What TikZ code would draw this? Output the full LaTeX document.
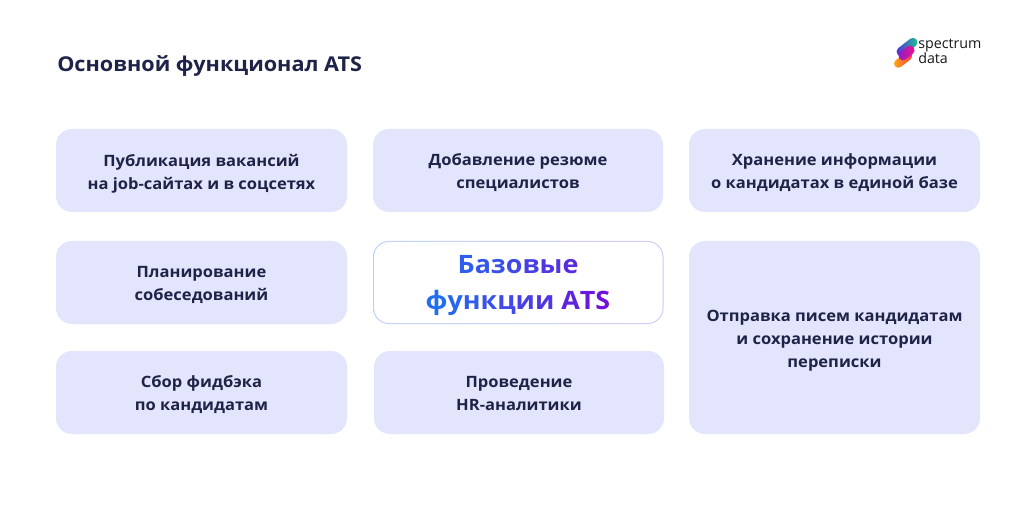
\documentclass[tikz,border=0pt]{standalone}
\usepackage{fontspec}
\setmainfont{Open Sans}[BoldFont={Open Sans Bold}]
\newfontfamily\bodyfont{Open Sans Bold}[FakeStretch=1.06]
\newfontfamily\logofont{Open Sans}
\usetikzlibrary{calc}
\definecolor{ink}{HTML}{1F2347}
\definecolor{boxfill}{HTML}{E3E5FD}
\definecolor{gradA}{HTML}{1F72F2}
\definecolor{gradB}{HTML}{7010D8}
\definecolor{rimA}{HTML}{B9CFFB}
\definecolor{rimB}{HTML}{CFC8FA}
\newcommand{\gl}[2]{{\color{gradB!#1!gradA}#2}}
\newcommand{\topstrut}{\rule{0pt}{14.6pt}}
\newcommand{\botstrut}{\rule[-3pt]{0pt}{3pt}}
\tikzset{
  x=0.75pt,y=-0.75pt,
  card/.style={fill=boxfill,rounded corners=12pt,inner sep=0pt,align=center,text=ink,
     font=\bodyfont\fontsize{11.7pt}{17.25pt}\selectfont},
  cardtext/.style={card,fill=none,yshift=-2.25pt,execute at begin node=\topstrut,execute at end node=\botstrut},
  headline/.style={font=\bodyfont\fontsize{15.3pt}{20pt}\selectfont,text=ink,anchor=west,inner sep=0pt},
  logotext/.style={font=\logofont\fontsize{10.7pt}{10pt}\selectfont,text=black!90,anchor=west,inner sep=0pt},
  capsule/.style={rounded corners=3.3pt},
}
\newcommand{\cardbox}[6]{\path[card] (#2,#3) rectangle (#4,#5);
  \node[cardtext] (#1) at ({(#2+#4)/2},{(#3+#5)/2}) {#6};}
\begin{document}
\begin{tikzpicture}
\useasboundingbox (0,0) rectangle (1024,527);
\fill[white] (0,0) rectangle (1024,527);
\node[headline] (title) at (57,66) {Основной функционал ATS};

\cardbox{a}{56}{129}{347}{212}{Публикация вакансий\\на job-сайтах и в соцсетях}
\cardbox{b}{373}{129}{663}{212}{Добавление резюме\\специалистов}
\cardbox{c}{689}{129}{980}{212}{Хранение информации\\о кандидатах в единой базе}
\cardbox{d}{56}{241}{347}{324}{Планирование\\собеседований}
\cardbox{e}{56}{351}{347}{434}{Сбор фидбэка\\по кандидатам}
\cardbox{f}{374}{351}{664}{434}{Проведение\\HR-аналитики}
\cardbox{g}{689}{241}{980}{434}{Отправка писем кандидатам\\и сохранение истории\\переписки}

% centre card with gradient outline
\path[rounded corners=12pt,left color=rimA,right color=rimB]
  (373,241) rectangle (663.5,324);
\fill[white,rounded corners=11.3pt] (374,242) rectangle (662.5,323);
\node[align=center,inner sep=0pt,font=\bodyfont\fontsize{19pt}{27pt}\selectfont] (centre) at (518,286)
 {\gl{22}{Б}\gl{28}{а}\gl{34}{з}\gl{42}{о}\gl{50}{в}\gl{60}{ы}\gl{70}{е}\\
  \gl{3}{ф}\gl{12}{у}\gl{22}{н}\gl{32}{к}\gl{42}{ц}\gl{52}{и}\gl{62}{и} \gl{80}{A}\gl{90}{T}\gl{100}{S}};

% logo
\definecolor{logoTeal}{HTML}{14D08C}
\definecolor{logoViolet}{HTML}{5A24E0}
\definecolor{logoPink}{HTML}{F8108C}
\definecolor{logoOrange}{HTML}{FFB00A}
\definecolor{logoRed}{HTML}{F8304A}
\begin{scope}[shift={(907,47)},rotate=38]
 \path[capsule,left color=logoViolet,right color=logoTeal] (-12,-4.5) rectangle (12,4.5);
\end{scope}
\begin{scope}[shift={(903.5,59.5)},rotate=38]
 \path[capsule,left color=logoOrange,right color=logoRed] (-11,-4.2) rectangle (10,4.2);
\end{scope}
\begin{scope}[shift={(906.5,53)},rotate=38]
 \path[capsule,left color=logoViolet!70!logoPink,right color=logoPink] (-9,-4.5) rectangle (9,4.5);
\end{scope}
\node[logotext] (logo1) at (918,46) {spectrum};
\node[logotext] (logo2) at (918,58) {data};
\end{tikzpicture}
\end{document}
